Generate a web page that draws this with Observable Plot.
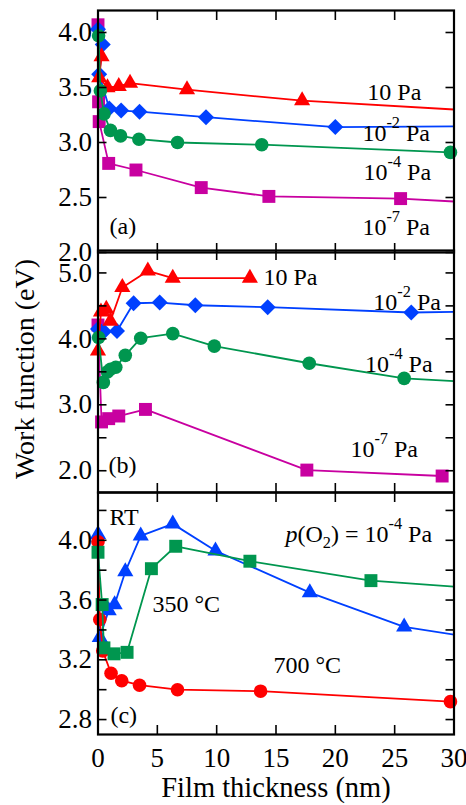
<!DOCTYPE html>
<html><head><meta charset="utf-8">
<script src="https://cdn.jsdelivr.net/npm/d3@7"></script>
<script src="https://cdn.jsdelivr.net/npm/@observablehq/plot@0.6"></script>
<style>
body{margin:0;background:#fff;}
#wrap{position:relative;width:466px;height:805px;background:#fff;font-family:"Liberation Serif",Tinos,"Times New Roman","DejaVu Serif",serif;color:#000;overflow:hidden;}
#ytitle{position:absolute;left:25px;top:369px;transform:translate(-50%,-50%) rotate(-90deg);font-size:28px;line-height:28px;white-space:nowrap;}
#xtitle{position:absolute;left:276px;top:774px;transform:translateX(-50%);font-size:28.5px;line-height:28px;white-space:nowrap;}
#wrap svg text{font-family:"Liberation Serif",Tinos,"Times New Roman","DejaVu Serif",serif !important;}
</style></head>
<body><div id="wrap"><div id="ytitle">Work function (eV)</div><div id="xtitle">Film thickness (nm)</div></div>
<script>
// ---------- shared x axis ----------
const xDomain = [0, 30];
const xTicks = [0, 5, 10, 15, 20, 25, 30];

// ---------- panel (a): oxygen partial pressure, RT ----------
const yDomainA = [2.0, 4.2];
const yTicksA = [2.0, 2.5, 3.0, 3.5, 4.0];
const yLabelsA = [2.0, 2.5, 3.0, 3.5, 4.0];
const a_1e7Pa = [[0,4.07],[0.05,3.37],[0.1,3.19],[0.9,2.81],[3.2,2.75],[8.7,2.59],[14.4,2.51],[25.5,2.49],[34,2.44]];
const a_1e2Pa = [[0,4.03],[0.4,3.89],[0.1,3.62],[0.95,3.31],[1.95,3.29],[3.5,3.28],[9.1,3.23],[20.0,3.14],[34,3.15]];
const a_10Pa  = [[0.3,3.78],[0.1,3.59],[0.8,3.50],[1.75,3.51],[2.7,3.54],[7.5,3.48],[17.2,3.38],[34,3.275]];
const a_1e4Pa = [[0.05,3.97],[0.2,3.47],[0.5,3.26],[1.05,3.11],[1.9,3.06],[3.45,3.03],[6.7,3.00],[13.8,2.98],[29.7,2.91]];
const notesA = [
  {x:22.7, y:3.456, label:"10 Pa"},
  {x:22.28, y:3.08, label:"10^{-2} Pa"},
  {x:22.37, y:2.731, label:"10^{-4} Pa"},
  {x:22.28, y:2.227, label:"10^{-7} Pa"},
  {x:0.97, y:2.236, label:"(a)"}
];

// ---------- panel (b) ----------
const yDomainB = [1.67, 5.34];
const yTicksB = [2.0, 2.5, 3.0, 3.5, 4.0, 4.5, 5.0];
const yLabelsB = [2.0, 3.0, 4.0, 5.0];
const b_1e7Pa = [[0,4.21],[0.3,2.74],[0.9,2.79],[1.75,2.83],[4.0,2.93],[17.6,2.01],[29.0,1.92]];
const b_1e2Pa = [[0,4.15],[0.15,4.13],[0.5,4.11],[1.6,4.12],[3.0,4.54],[5.2,4.55],[8.2,4.51],[14.3,4.48],[26.4,4.40],[34,4.42]];
const b_10Pa  = [[0,3.82],[0.25,4.41],[0.7,4.45],[1.05,4.27],[2.05,4.78],[4.2,5.03],[6.3,4.92],[12.8,4.92]];
const b_1e4Pa = [[0.05,4.02],[0.45,3.34],[0.8,3.50],[1.05,3.54],[1.5,3.57],[2.3,3.75],[3.6,4.01],[6.3,4.08],[9.8,3.89],[17.8,3.63],[25.8,3.40],[34,3.32]];
const notesB = [
  {x:13.94, y:4.93, label:"10 Pa"},
  {x:23.2, y:4.55, label:"10^{-2} Pa"},
  {x:22.5, y:3.61, label:"10^{-4} Pa"},
  {x:21.27, y:2.32, label:"10^{-7} Pa"},
  {x:0.88, y:2.08, label:"(b)"}
];

// ---------- panel (c): substrate temperature, p(O2)=1e-4 Pa ----------
const yDomainC = [2.7, 4.32];
const yTicksC = [2.8, 3.0, 3.2, 3.4, 3.6, 3.8, 4.0, 4.2];
const yLabelsC = [2.8, 3.2, 3.6, 4.0];
const c_RT   = [[0,4.04],[0.15,3.35],[0.9,3.53],[1.4,3.57],[2.3,3.79],[3.6,4.03],[6.3,4.11],[9.9,3.93],[17.85,3.65],[25.8,3.42],[34,3.32]];
const c_700C = [[0,3.99],[0.15,3.47],[0.4,3.26],[1.1,3.11],[2.0,3.06],[3.5,3.03],[6.7,3.00],[13.7,2.99],[29.7,2.92]];
const c_350C = [[0,3.92],[0.35,3.57],[0.5,3.28],[1.35,3.24],[2.45,3.25],[4.5,3.81],[6.55,3.96],[12.8,3.86],[23.0,3.73],[34,3.667]];
const notesC = [
  {x:0.97, y:4.151, label:"RT"},
  {x:4.59, y:3.569, label:"350 °C"},
  {x:14.79, y:3.161, label:"700 °C"},
  {x:15.8, y:4.037, label:"*{p}(O_{2}) = 10^{-4} Pa"},
  {x:1.05, y:2.827, label:"(c)"}
];

// ---------- styles ----------
const FONT = "'Liberation Serif',Tinos,'Times New Roman','DejaVu Serif',serif";
const RED = "#ff0000", BLUE = "#0040ff", GREEN = "#00964f", MAGENTA = "#c800a0";
const SQ = {symbol:"square", r:7.3}, DI = {symbol:"diamond2", r:7.2}, TRI = {symbol:"triangle", r:6}, CIR = {symbol:"circle", r:6.8};

function panel({series, yDomain, yTicks, yLabels, notes, top, showX}) {
  const marks = [];
  for (const s of series) {
    const rows = s.data.map(([x, y]) => ({x, y}));
    marks.push(Plot.line(rows, {x: "x", y: "y", stroke: s.color, strokeWidth: 1.8, clip: true}));
    marks.push(Plot.dot(rows.filter(d => d.x <= xDomain[1]), {x: "x", y: "y", fill: s.color, stroke: "none", symbol: s.m.symbol, r: s.m.r}));
  }
  const fmt = d => yLabels.includes(d) ? d.toFixed(1) : "";
  marks.push(Plot.axisY({anchor: "left", ticks: yTicks, tickSize: -9, tickPadding: 15, tickFormat: fmt, fontSize: 27, strokeWidth: 1.6, label: null}));
  marks.push(Plot.axisY({anchor: "right", ticks: yTicks, tickSize: -9, tickFormat: () => "", strokeWidth: 1.6, label: null}));
  marks.push(Plot.axisX({anchor: "top", ticks: xTicks, tickSize: -9, tickFormat: () => "", strokeWidth: 1.6, label: null}));
  marks.push(Plot.axisX({anchor: "bottom", ticks: xTicks, tickSize: -9, tickPadding: 22, tickFormat: showX ? (d => String(d)) : (() => ""), fontSize: 27, strokeWidth: 1.6, label: null}));
  marks.push(Plot.frame({strokeWidth: 2.2, stroke: "black"}));
  marks.push(Plot.text(notes, {x: "x", y: "y", text: "label", textAnchor: "start", fontSize: 24, fill: "black"}));
  const svg = Plot.plot({
    width: 466, height: 262,
    marginLeft: 97.5, marginRight: 12.5, marginTop: 10, marginBottom: 10,
    x: {domain: xDomain, label: null},
    y: {domain: yDomain, label: null},
    style: `font-family:${FONT};background:transparent;overflow:visible;max-width:none;color:black;`,
    marks
  });
  svg.setAttribute("font-family", FONT);
  svg.style.position = "absolute";
  svg.style.left = "0px";
  svg.style.top = top + "px";
  document.getElementById("wrap").appendChild(svg);
  richify(svg);
}

function richify(root) {
  const NS = "http://www.w3.org/2000/svg";
  root.querySelectorAll("text").forEach(node => {
    const t = node.textContent;
    if (!/[\^_*]\{/.test(t)) return;
    const fs = parseFloat(getComputedStyle(node).fontSize) || 24;
    const re = /([\^_*])\{([^}]*)\}/g;
    const segs = []; let last = 0, m;
    while ((m = re.exec(t))) {
      if (m.index > last) segs.push({k: "", s: t.slice(last, m.index)});
      segs.push({k: m[1], s: m[2]});
      last = re.lastIndex;
    }
    if (last < t.length) segs.push({k: "", s: t.slice(last)});
    while (node.firstChild) node.removeChild(node.firstChild);
    let shift = 0;
    for (const g of segs) {
      const ts = document.createElementNS(NS, "tspan");
      const target = g.k === "^" ? -0.55 * fs : g.k === "_" ? 0.25 * fs : 0;
      if (target !== shift) ts.setAttribute("dy", target - shift);
      shift = target;
      if (g.k === "^" || g.k === "_") ts.setAttribute("font-size", 0.68 * fs);
      if (g.k === "*") ts.setAttribute("font-style", "italic");
      ts.textContent = g.s;
      node.appendChild(ts);
    }
  });
}

panel({
  series: [
    {data: a_1e7Pa, color: MAGENTA, m: SQ},
    {data: a_1e2Pa, color: BLUE, m: DI},
    {data: a_10Pa, color: RED, m: TRI},
    {data: a_1e4Pa, color: GREEN, m: CIR}
  ],
  yDomain: yDomainA, yTicks: yTicksA, yLabels: yLabelsA, notes: notesA, top: 0, showX: false
});
panel({
  series: [
    {data: b_1e7Pa, color: MAGENTA, m: SQ},
    {data: b_1e2Pa, color: BLUE, m: DI},
    {data: b_10Pa, color: RED, m: TRI},
    {data: b_1e4Pa, color: GREEN, m: CIR}
  ],
  yDomain: yDomainB, yTicks: yTicksB, yLabels: yLabelsB, notes: notesB, top: 240, showX: false
});
panel({
  series: [
    {data: c_RT, color: BLUE, m: TRI},
    {data: c_700C, color: RED, m: CIR},
    {data: c_350C, color: GREEN, m: SQ}
  ],
  yDomain: yDomainC, yTicks: yTicksC, yLabels: yLabelsC, notes: notesC, top: 482, showX: true
});
</script>
</body></html>
